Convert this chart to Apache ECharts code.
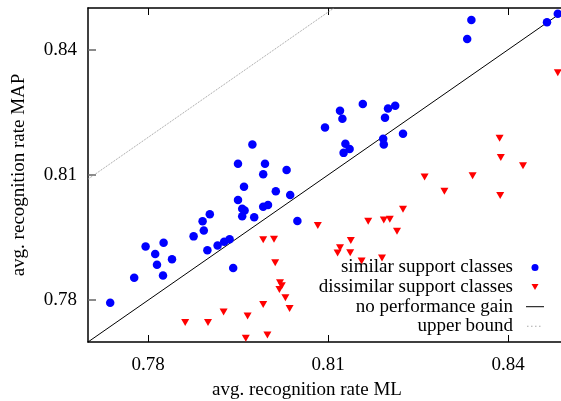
<!DOCTYPE html>
<html>
<head>
<meta charset="utf-8">
<script src="https://cdn.jsdelivr.net/npm/echarts@6/dist/echarts.min.js"></script>
<style>
  html, body { margin: 0; padding: 0; background: #fff; }
  #chart { width: 561px; height: 401px; }
</style>
</head>
<body>
<div id="chart"></div>
<script>
// similar support classes (blue dots): ML rate / MAP rate
const similarML = [0.7974, 0.7950, 0.7995, 0.7992, 0.8031, 0.8339, 0.8332, 0.8465, 0.8483, 0.8158,
  0.8120, 0.8124, 0.8095, 0.8200, 0.8212, 0.8195, 0.8225, 0.8192, 0.8193, 0.8129,
  0.8136, 0.8126, 0.7960, 0.7950, 0.8013, 0.8037, 0.7957, 0.7961, 0.7957, 0.7977,
  0.7992, 0.8000, 0.7903, 0.7891, 0.7893, 0.7876, 0.7936, 0.7927, 0.7916, 0.7899,
  0.8049, 0.7826, 0.7796, 0.7812, 0.7840, 0.7815, 0.7942, 0.7777, 0.7825, 0.7737];
const similarMAP = [0.8173, 0.8127, 0.8127, 0.8102, 0.8112, 0.8471, 0.8426, 0.8466, 0.8486, 0.8270,
  0.8254, 0.8235, 0.8214, 0.8259, 0.8266, 0.8237, 0.8199, 0.8187, 0.8173, 0.8175,
  0.8162, 0.8153, 0.8072, 0.8040, 0.8061, 0.8052, 0.8019, 0.8015, 0.8001, 0.7999,
  0.8024, 0.8028, 0.8006, 0.7989, 0.7967, 0.7953, 0.7946, 0.7940, 0.7931, 0.7920,
  0.7990, 0.7938, 0.7929, 0.7911, 0.7898, 0.7885, 0.7877, 0.7854, 0.7859, 0.7794];

// dissimilar support classes (red triangles)
const dissimilarML = [0.8483, 0.8386, 0.8388, 0.8425, 0.8261, 0.8341, 0.8294, 0.8387, 0.8225, 0.8167,
  0.8193, 0.8203, 0.8215, 0.8083, 0.8138, 0.8120, 0.8116, 0.8137, 0.8156, 0.8190,
  0.7992, 0.8010, 0.8012, 0.8020, 0.8023, 0.8019, 0.8029, 0.8036, 0.7992, 0.7966,
  0.7926, 0.7900, 0.7862, 0.7963, 0.7999];
const dissimilarMAP = [0.8345, 0.8188, 0.8142, 0.8122, 0.8095, 0.8098, 0.8061, 0.8051, 0.8018, 0.7989,
  0.7992, 0.7994, 0.7965, 0.7979, 0.7943, 0.7926, 0.7913, 0.7914, 0.7894, 0.7901,
  0.7945, 0.7946, 0.7890, 0.7842, 0.7835, 0.7826, 0.7806, 0.7780, 0.7790, 0.7762,
  0.7772, 0.7747, 0.7747, 0.7709, 0.7717];

// reference lines
const noGainLine = [[0.77, 0.77], [0.85, 0.85]];
const upperBoundLine = [[0.77, 0.809], [0.811, 0.85]];

const tickValues = [0.78, 0.81, 0.84];

const zip = (xs, ys) => xs.map((x, i) => [x, ys[i]]);

const font = "Liberation Serif";
const chart = echarts.init(document.getElementById("chart"));

// legend icons, drawn in an 18x10 box so they keep a small size
const iconDot = "path://M0,0M18,10M12.5,5A3.5,3.5,0,1,1,5.5,5A3.5,3.5,0,1,1,12.5,5Z";
const iconTri = "path://M0,0M18,10M5.5,2L12.5,2L9,8Z";
const iconLine = "path://M0,0M18,10M0,4.5L18,4.5L18,5.5L0,5.5Z";
const iconDots = "path://M0,0M18,10M1,4.5h1.5v1h-1.5zM5,4.5h1.5v1h-1.5zM9,4.5h1.5v1h-1.5zM13,4.5h1.5v1h-1.5z";

chart.setOption({
  animation: false,
  textStyle: { fontFamily: font, color: "#000" },
  grid: { left: 88, top: 8, width: 480, height: 334, outerBoundsMode: "none", containLabel: false },
  legend: {
    orient: "vertical",
    align: "right",
    right: 17,
    top: 258,
    padding: 0,
    itemWidth: 18,
    itemHeight: 10,
    itemGap: 0.6,
    textStyle: { fontFamily: font, fontSize: 19, color: "#000", lineHeight: 19, padding: [0, 8, 0, 0] },
    data: [
      { name: "similar support classes", icon: iconDot },
      { name: "dissimilar support classes", icon: iconTri },
      { name: "no performance gain", icon: iconLine },
      { name: "upper bound", icon: iconDots }
    ]
  },
  xAxis: [
    {
      type: "value", min: 0.77, max: 0.85,
      name: "avg. recognition rate ML",
      nameLocation: "middle", nameGap: 39,
      nameTextStyle: { fontFamily: font, fontSize: 19, color: "#000", padding: [0, 42, 0, 0] },
      axisLine: { lineStyle: { color: "#000", width: 1.5 } },
      axisTick: { inside: true, length: 7, customValues: tickValues, lineStyle: { color: "#000" } },
      axisLabel: { customValues: tickValues, fontFamily: font, fontSize: 19, color: "#000", margin: 14 },
      splitLine: { show: false }
    },
    {
      type: "value", min: 0.77, max: 0.85, position: "top",
      axisLine: { lineStyle: { color: "#000", width: 1.5 } },
      axisTick: { inside: true, length: 7, customValues: tickValues, lineStyle: { color: "#000" } },
      axisLabel: { show: false },
      splitLine: { show: false }
    }
  ],
  yAxis: {
    type: "value", min: 0.77, max: 0.85,
    name: "avg. recognition rate MAP",
    nameLocation: "middle", nameGap: 59, nameRotate: 90,
    nameTextStyle: { fontFamily: font, fontSize: 19, color: "#000" },
    axisLine: { show: true, lineStyle: { color: "#000", width: 1.5 } },
    axisTick: { show: true, inside: true, length: 8, customValues: tickValues, lineStyle: { color: "#666", width: 1.5 } },
    axisLabel: { customValues: tickValues, fontFamily: font, fontSize: 19, color: "#000", margin: 11 },
    splitLine: { show: false }
  },
  series: [
    {
      name: "similar support classes", type: "scatter",
      symbol: "circle", symbolSize: 8.5,
      itemStyle: { color: "#0000ff", opacity: 1 },
      data: zip(similarML, similarMAP), z: 3
    },
    {
      name: "dissimilar support classes", type: "scatter",
      symbol: "triangle", symbolRotate: 180, symbolSize: [8, 7],
      itemStyle: { color: "#ff0000", opacity: 1 },
      data: zip(dissimilarML, dissimilarMAP), z: 3
    },
    {
      name: "no performance gain", type: "line",
      symbol: "none", silent: true,
      lineStyle: { color: "#000", width: 1 },
      itemStyle: { color: "#000" },
      data: noGainLine, z: 2
    },
    {
      name: "upper bound", type: "line",
      symbol: "none", silent: true,
      lineStyle: { color: "#999", width: 1, type: "dotted" },
      itemStyle: { color: "#aaa" },
      data: upperBoundLine, z: 2
    }
  ]
});
</script>
</body>
</html>
